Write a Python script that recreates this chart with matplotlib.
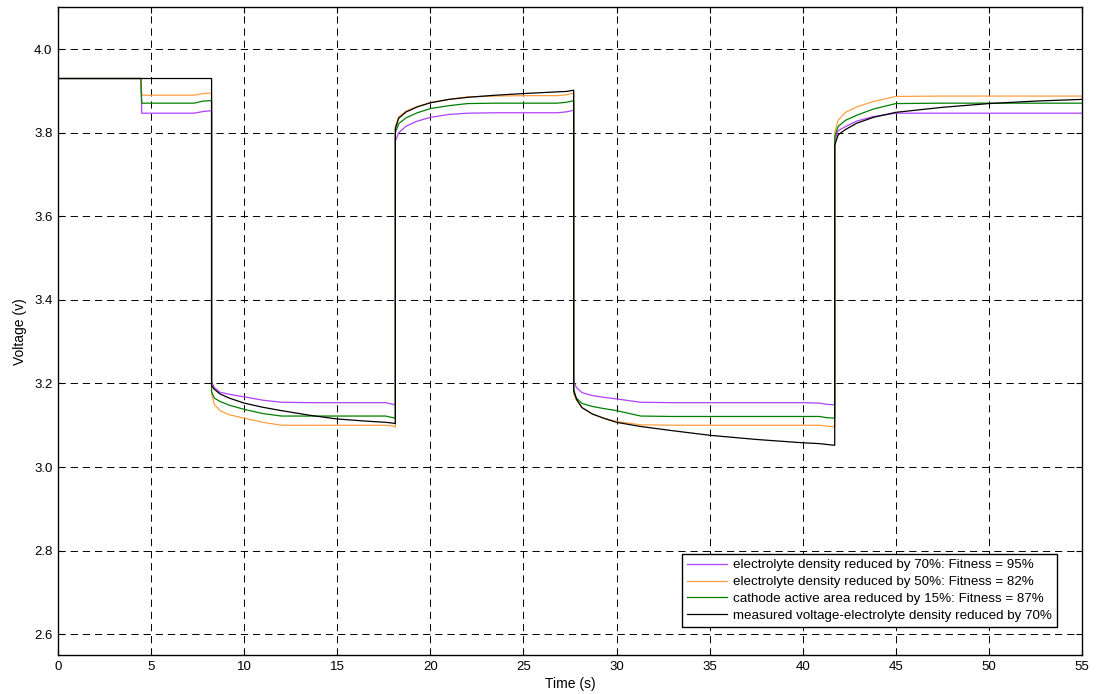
import matplotlib.pyplot as plt

plt.rcParams["font.family"] = ["Liberation Sans", "DejaVu Sans"]

# time knots (s); repeated values give the vertical current-step edges
t = [0, 4.45, 4.5, 7.3, 7.8, 8.25,
     8.25, 8.4, 8.7, 9.2, 10, 11, 12, 13.5, 15, 16.5, 17.6, 18.0, 18.12,
     18.12, 18.3, 18.7, 19.3, 20, 21, 22, 23.5, 25, 26.8, 27.3, 27.7,
     27.7, 27.85, 28.15, 28.7, 29.3, 30, 31.3, 33, 35, 37.5, 40, 40.9, 41.3, 41.72,
     41.72, 41.9, 42.3, 42.9, 43.8, 45, 47.5, 50, 52.5, 55]

v_elec70 = [3.93, 3.93, 3.847, 3.847, 3.851, 3.853,
            3.205, 3.19, 3.179, 3.174, 3.168, 3.160, 3.155, 3.154, 3.154, 3.154, 3.154, 3.150, 3.149,
            3.78, 3.800, 3.816, 3.828, 3.837, 3.844, 3.847, 3.848, 3.848, 3.848, 3.850, 3.854,
            3.205, 3.19, 3.178, 3.171, 3.167, 3.163, 3.155, 3.154, 3.154, 3.154, 3.154, 3.153, 3.150, 3.149,
            3.78, 3.805, 3.815, 3.828, 3.839, 3.847, 3.847, 3.847, 3.847, 3.847]

v_elec50 = [3.93, 3.93, 3.890, 3.890, 3.894, 3.895,
            3.175, 3.150, 3.135, 3.125, 3.117, 3.107, 3.100, 3.100, 3.100, 3.100, 3.100, 3.098, 3.096,
            3.815, 3.838, 3.852, 3.863, 3.872, 3.880, 3.886, 3.888, 3.889, 3.889, 3.891, 3.895,
            3.175, 3.160, 3.142, 3.127, 3.117, 3.109, 3.101, 3.100, 3.100, 3.100, 3.100, 3.100, 3.098, 3.096,
            3.800, 3.830, 3.849, 3.862, 3.875, 3.887, 3.888, 3.888, 3.888, 3.888]

v_cathode15 = [3.93, 3.93, 3.871, 3.871, 3.876, 3.877,
               3.180, 3.165, 3.157, 3.148, 3.138, 3.128, 3.122, 3.122, 3.122, 3.122, 3.122, 3.118, 3.117,
               3.800, 3.822, 3.836, 3.848, 3.858, 3.865, 3.870, 3.871, 3.871, 3.871, 3.873, 3.877,
               3.180, 3.165, 3.152, 3.145, 3.140, 3.135, 3.122, 3.121, 3.121, 3.121, 3.121, 3.121, 3.118, 3.117,
               3.790, 3.815, 3.830, 3.842, 3.857, 3.870, 3.871, 3.871, 3.871, 3.871]

v_measured = [3.93, 3.93, 3.93, 3.93, 3.93, 3.93,
              3.195, 3.186, 3.175, 3.165, 3.153, 3.143, 3.135, 3.124, 3.115, 3.110, 3.107, 3.105, 3.104,
              3.810, 3.835, 3.850, 3.862, 3.872, 3.880, 3.885, 3.890, 3.894, 3.898, 3.899, 3.902,
              3.185, 3.162, 3.142, 3.127, 3.117, 3.107, 3.097, 3.087, 3.076, 3.066, 3.058, 3.056, 3.054, 3.052,
              3.770, 3.795, 3.808, 3.823, 3.837, 3.849, 3.861, 3.870, 3.876, 3.880]

labels = [
    "electrolyte density reduced by 70%: Fitness = 95%",
    "electrolyte density reduced by 50%: Fitness = 82%",
    "cathode active area reduced by 15%: Fitness = 87%",
    "measured voltage-electrolyte density reduced by 70%",
]
series = [v_elec70, v_elec50, v_cathode15, v_measured]
colors = ["#b040ff", "#ffa040", "#008000", "#000000"]

fig = plt.figure(figsize=(10.96, 6.94), dpi=100)
ax = fig.add_axes([0.0529, 0.0562, 0.9343, 0.9330])

for vals, lab, col in zip(series, labels, colors):
    ax.plot(t, vals, color=col, linewidth=0.9, label=lab)

ax.set_xlim(0, 55)
ax.set_ylim(2.55, 4.1)
ax.set_xticks(range(0, 56, 5))
ax.set_yticks([2.6, 2.8, 3.0, 3.2, 3.4, 3.6, 3.8, 4.0])
ax.set_yticklabels(["2.6", "2.8", "3.0", "3.2", "3.4", "3.6", "3.8", "4.0"])
ax.tick_params(direction="in", top=True, right=True, length=4, width=0.8,
               labelsize=9.5, pad=4)
ax.grid(True, color="black", linestyle=(0, (7.5, 5)), linewidth=0.7)
for sp in ax.spines.values():
    sp.set_linewidth(1.0)

ax.set_xlabel("Time (s)", fontsize=10, labelpad=3)
ax.set_ylabel("Voltage (v)", fontsize=10, labelpad=5)

leg = ax.legend(loc="lower right", bbox_to_anchor=(0.9756, 0.0432),
                borderaxespad=0, fontsize=9.6, fancybox=False, framealpha=1,
                edgecolor="black", handlelength=3.0, handletextpad=0.4,
                labelspacing=0.33, borderpad=0.4)
leg.get_frame().set_linewidth(1.0)

plt.savefig("out.png", dpi=100)
